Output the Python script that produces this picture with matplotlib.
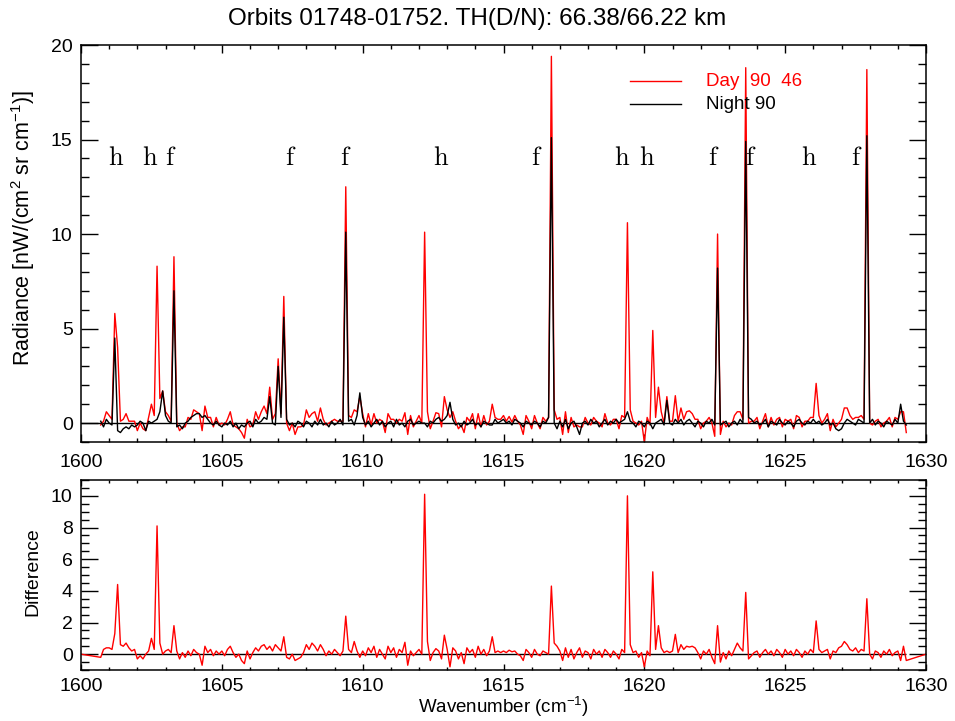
import numpy as np
import matplotlib
matplotlib.use("Agg")
import matplotlib.pyplot as plt
from matplotlib.ticker import MultipleLocator

plt.rcParams['font.family'] = ['Liberation Sans', 'DejaVu Sans']
plt.rcParams['mathtext.fontset'] = 'custom'
plt.rcParams['mathtext.rm'] = 'Liberation Sans'
plt.rcParams['mathtext.it'] = 'Liberation Sans:italic'

# ---------------- data ----------------
wn_start = 1600.7
wn_step = 0.1

# Night radiance (black), one row per 1 cm-1 (first row 1600.7-1600.9)
night = [
    0.1, -0.2, 0.2,
    0.0, -0.1, 4.5, -0.4, -0.5, -0.3, -0.2, -0.3, -0.1, -0.2,
    -0.1, 0.1, 0.0, -0.4, 0.1, 0.0, 0.1, 0.2, 0.6, 1.7,
    0.4, 0.1, 0.0, 7.0, -0.2, -0.1, -0.3, 0.0, 0.1, 0.3,
    0.4, 0.5, 0.5, 0.3, 0.4, 0.2, 0.0, -0.1, 0.1, -0.1,
    -0.2, 0.0, -0.1, 0.1, -0.2, 0.0, -0.3, -0.1, -0.2, 0.0,
    0.1, -0.2, 0.2, 0.0, 0.1, 0.3, 0.2, 1.4, 0.0, -0.1,
    3.0, 0.3, 5.6, 0.2, -0.1, 0.0, -0.2, 0.1, 0.0, -0.2,
    0.1, 0.0, -0.2, 0.1, -0.1, 0.2, -0.1, 0.0, -0.2, 0.1,
    -0.1, 0.0, 0.2, -0.1, 10.1, 0.1, 0.2, -0.1, 0.4, 1.6,
    0.3, -0.1, 0.1, -0.2, 0.0, 0.2, -0.1, 0.1, -0.2, 0.0,
    0.1, -0.2, 0.2, -0.1, 0.0, -0.2, 0.1, 0.2, -0.1, 0.0,
    0.1, 0.0, 0.0, -0.2, 0.1, 0.0, 0.2, 0.3, 0.1, 0.2,
    0.4, 1.1, 0.2, -0.1, 0.0, -0.2, 0.1, -0.1, 0.0, 0.2,
    -0.1, 0.0, -0.2, 0.1, 0.0, -0.1, -0.1, 0.2, 0.0, 0.1,
    0.2, 0.0, 0.1, -0.1, 0.2, 0.1, 0.0, -0.2, 0.1, 0.0,
    -0.1, 0.1, 0.0, -0.2, 0.1, 0.0, 0.3, 15.1, 0.0, -0.3,
    0.1, -0.2, 0.2, -0.3, 0.0, 0.1, -0.2, -0.6, 0.0, 0.1,
    -0.1, 0.2, 0.0, 0.1, -0.2, 0.0, 0.2, -0.1, 0.1, 0.0,
    0.2, 0.0, 0.1, 0.2, 0.6, 0.1, 0.0, -0.2, 0.1, 0.0,
    -0.2, 0.1, 0.0, -0.3, 0.0, 0.1, 0.2, -0.1, 1.2, 0.0,
    -0.1, 0.2, 0.0, 0.2, -0.1, 0.1, 0.2, 0.0, -0.2, 0.1,
    0.0, -0.2, 0.1, 0.0, 0.2, -0.1, 8.2, -0.1, 0.0, 0.1,
    -0.2, 0.0, 0.1, -0.1, 0.2, 0.0, 14.9, 0.3, 0.2, 0.0,
    0.1, -0.1, 0.0, 0.2, -0.2, 0.1, 0.0, -0.1, 0.2, 0.0,
    -0.1, 0.1, 0.0, -0.2, 0.1, 0.2, 0.0, -0.1, 0.1, 0.0,
    0.2, 0.0, 0.1, -0.1, 0.0, 0.2, -0.1, 0.0, -0.3, -0.4,
    -0.3, 0.0, 0.2, 0.1, 0.0, -0.1, 0.2, 0.1, 0.0, 15.2,
    0.0, 0.2, -0.1, 0.1, 0.0, -0.2, 0.1, 0.0, -0.1, 0.2,
    0.0, 1.0, 0.1, -0.1,
]

# Difference Day - Night (red, lower panel), same grid
difference = [
    -0.2, 0.3, 0.4,
    0.4, 0.3, 1.3, 4.4, 0.6, 0.5, 0.7, 0.4, 0.2, 0.3,
    -0.3, -0.1, -0.3, 0.0, 0.2, 1.0, 0.3, 8.1, 0.7, 0.0,
    0.2, 0.3, 0.1, 1.8, 0.2, -0.3, 0.1, -0.2, 0.2, -0.1,
    0.3, 0.1, 0.0, -0.7, 0.5, 0.1, 0.3, -0.1, 0.2, 0.0,
    0.2, -0.1, 0.3, 0.5, 0.1, -0.2, 0.0, -0.4, -0.6, 0.2,
    -0.3, 0.1, 0.4, 0.2, 0.5, 0.6, 0.3, 0.5, 0.2, 0.6,
    0.4, 0.2, 1.1, -0.2, -0.3, 0.0, -0.4, -0.3, -0.2, 0.1,
    0.6, 0.3, 0.7, 0.5, 0.2, 0.6, 0.3, -0.1, 0.2, 0.0,
    0.3, 0.1, -0.1, 0.2, 2.4, 0.3, 0.1, 0.8, 0.2, -0.2,
    0.2, -0.1, 0.4, 0.1, 0.5, -0.2, 0.3, 0.0, -0.3, 0.5,
    0.1, 0.4, -0.2, 0.3, 0.1, 0.75, -0.7, 0.2, -0.1, 0.1,
    0.3, 0.0, 10.1, 0.8, -0.4, 0.1, 0.35, 0.2, -0.3, 1.2,
    0.3, -0.8, 0.4, 0.2, -0.3, 0.1, -0.6, 0.4, 0.1, 0.3,
    -0.2, 0.5, 0.0, 0.3, -0.1, 0.2, 1.1, 0.1, 0.2, 0.1,
    0.2, 0.1, 0.25, 0.15, 0.2, 0.0, -0.1, -0.4, 0.3, 0.1,
    -0.2, 0.3, 0.0, -0.1, 0.2, 0.1, 0.0, 4.3, 0.7, 0.5,
    0.2, -0.4, 0.4, -0.2, 0.3, -0.3, 0.1, 0.4, -0.2, 0.2,
    0.1, -0.3, 0.3, 0.0, 0.2, -0.2, 0.3, 0.1, -0.2, 0.2,
    0.0, -0.3, 0.3, 0.1, 10.0, 0.6, 0.1, 0.2, -0.2, 0.1,
    -0.8, 0.2, -0.1, 5.2, 0.3, 1.8, 0.4, 0.1, 0.2, 0.1,
    0.2, 1.25, 0.1, 0.6, 0.3, 0.5, 0.45, 0.5, 0.4, 0.1,
    -0.3, 0.2, 0.0, 0.3, -0.2, -0.6, 1.8, -0.5, 0.1, -0.3,
    0.2, -0.1, 0.3, 0.7, 0.4, 0.2, 3.9, -0.3, -0.1, 0.1,
    0.2, -0.2, 0.1, 0.3, 0.0, 0.2, -0.1, 0.3, 0.1, -0.2,
    0.3, 0.0, 0.2, -0.1, 0.3, 0.1, -0.2, 0.2, 0.0, 0.3,
    0.1, 2.1, 0.3, 0.1, 0.2, 0.3, -0.3, 0.2, 0.1, 0.4,
    0.5, 0.8, 0.6, 0.3, 0.2, 0.4, 0.1, 0.3, 0.2, 3.5,
    0.0, -0.3, 0.2, 0.1, -0.2, 0.2, 0.0, 0.3, -0.1, 0.1,
    0.2, -0.4, 0.5, -0.4,
]

# line identifications
label_wn = [1601.24, 1602.45, 1603.19, 1607.45, 1609.41, 1612.78, 1616.19,
            1619.20, 1620.09, 1622.47, 1623.78, 1625.84, 1627.55]
label_txt = ['h', 'h', 'f', 'f', 'f', 'h', 'f', 'h', 'h', 'f', 'f', 'h', 'f']
label_y = 14.0

title = "Orbits 01748-01752. TH(D/N): 66.38/66.22 km"
day_label = "Day  90  46"
night_label = "Night 90"
x_range = (1600, 1630)

# ---------------- derived ----------------
night = np.array(night)
difference = np.array(difference)
wn = wn_start + wn_step * np.arange(len(night))
day = night + difference

# difference padded with zeros to the full axis range
wn_pad = np.concatenate([[x_range[0]], wn, [x_range[1]]])
diff_pad = np.concatenate([[0.0], difference, [0.0]])

# ---------------- figure ----------------
fig = plt.figure(figsize=(9.55, 7.21), dpi=100)
W, H = 955, 721
L, R = 81, 926
ax1 = fig.add_axes([L / W, 1 - 442 / H, (R - L) / W, (442 - 45) / H])
ax2 = fig.add_axes([L / W, 1 - 670 / H, (R - L) / W, (670 - 480) / H])

for ax in (ax1, ax2):
    for s in ax.spines.values():
        s.set_linewidth(1.1)
    ax.tick_params(which='both', direction='in', top=True, right=True,
                   labelsize=14, width=1.0, colors='black')
    ax.set_xlim(*x_range)
    ax.xaxis.set_major_locator(MultipleLocator(5))
    ax.xaxis.set_minor_locator(MultipleLocator(1))

# top panel
ax1.plot(wn, day, color='red', lw=1.0, zorder=2)
ax1.plot(wn, night, color='black', lw=1.0, zorder=3)
ax1.axhline(0, color='black', lw=1.0, zorder=1)
ax1.set_ylim(-1, 20)
ax1.yaxis.set_major_locator(MultipleLocator(5))
ax1.yaxis.set_minor_locator(MultipleLocator(1))
ax1.tick_params(axis='y', which='major', length=12, pad=6)
ax1.tick_params(axis='y', which='minor', length=6)
ax1.tick_params(axis='x', which='major', length=6, pad=9)
ax1.tick_params(axis='x', which='minor', length=3)
fig.text(23 / W, 1 - 228 / H, r"Radiance [nW/(cm$^{2}$ sr cm$^{-1}$)]", fontsize=15.5,
         rotation=90, ha='center', va='center')

for xw, t in zip(label_wn, label_txt):
    ax1.text(xw, label_y, r"$\mathrm{%s}$" % t, fontsize=19, ha='center', va='center',
             math_fontfamily='cm')

ax1.plot([0.650, 0.710], [0.909, 0.909], color='red', lw=1.0, transform=ax1.transAxes)
ax1.plot([0.650, 0.710], [0.851, 0.851], color='black', lw=1.0, transform=ax1.transAxes)
ax1.text(0.740, 0.909, day_label, color='red', fontsize=13.5, va='center',
         transform=ax1.transAxes)
ax1.text(0.740, 0.851, night_label, color='black', fontsize=13.5, va='center',
         transform=ax1.transAxes)

fig.text(0.5, 1 - 19 / H, title, ha='center', va='center', fontsize=17.5)

# bottom panel
ax2.hlines(0, wn[0], wn[-1], color='black', lw=1.0, zorder=1)
ax2.plot(wn_pad, diff_pad, color='red', lw=1.0, zorder=2)
ax2.set_ylim(-1, 11)
ax2.yaxis.set_major_locator(MultipleLocator(2))
ax2.yaxis.set_minor_locator(MultipleLocator(0.5))
ax2.tick_params(axis='y', which='major', length=12, pad=6, labelsize=14)
ax2.tick_params(axis='y', which='minor', length=6)
ax2.tick_params(axis='x', which='major', length=4, pad=6)
ax2.tick_params(axis='x', which='minor', length=2)
fig.text(33 / W, 1 - 572 / H, "Difference", fontsize=14, rotation=90,
         ha='center', va='center')
fig.text((L + R) / 2 / W, 1 - 707 / H, r"Wavenumber (cm$^{-1}$)", fontsize=13.5,
         ha='center', va='center')

fig.savefig("out.png", dpi=100)
